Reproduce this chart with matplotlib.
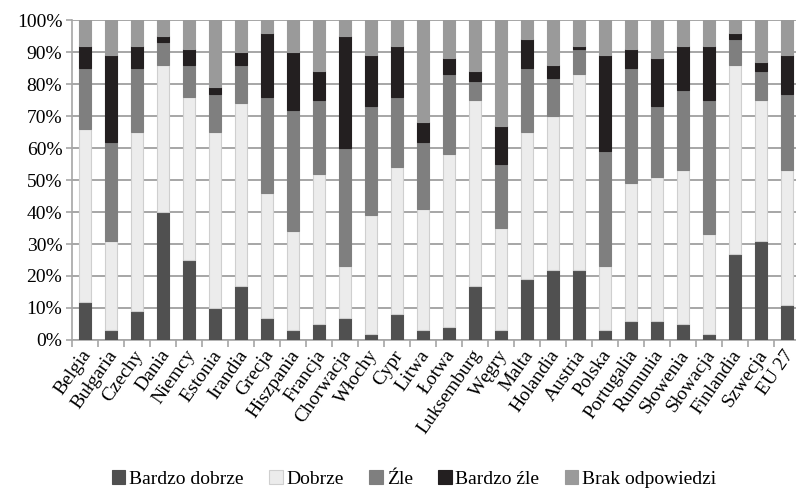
import matplotlib
matplotlib.use("Agg")
import matplotlib.pyplot as plt
import matplotlib.transforms as mtransforms
import numpy as np

countries = ["Belgia", "Bułgaria", "Czechy", "Dania", "Niemcy", "Estonia", "Irandia",
             "Grecja", "Hiszpania", "Francja", "Chorwacja", "Włochy", "Cypr", "Litwa",
             "Łotwa", "Luksemburg", "Węgry", "Malta", "Holandia", "Austria", "Polska",
             "Portugalia", "Rumunia", "Słowenia", "Słowacja", "Finlandia", "Szwecja", "EU 27"]

bardzo_dobrze = [12, 3, 9, 40, 25, 10, 17, 7, 3, 5, 7, 2, 8, 3, 4, 17, 3, 19, 22, 22, 3, 6, 6, 5, 2, 27, 31, 11]
dobrze = [54, 28, 56, 46, 51, 55, 57, 39, 31, 47, 16, 37, 46, 38, 54, 58, 32, 46, 48, 61, 20, 43, 45, 48, 31, 59, 44, 42]
zle = [19, 31, 20, 7, 10, 12, 12, 30, 38, 23, 37, 34, 22, 21, 25, 6, 20, 20, 12, 8, 36, 36, 22, 25, 42, 8, 9, 24]
bardzo_zle = [7, 27, 7, 2, 5, 2, 4, 20, 18, 9, 35, 16, 16, 6, 5, 3, 12, 9, 4, 1, 30, 6, 15, 14, 17, 2, 3, 12]
brak = [8, 11, 8, 5, 9, 21, 10, 4, 10, 16, 5, 11, 8, 32, 12, 16, 33, 6, 14, 8, 11, 9, 12, 8, 8, 4, 13, 11]

series_names = ["Bardzo dobrze", "Dobrze", "Źle", "Bardzo źle", "Brak odpowiedzi"]
series = [bardzo_dobrze, dobrze, zle, bardzo_zle, brak]
colors = ["#505050", "#ececec", "#7f7f7f", "#231f20", "#9a9a9a"]
edges = ["#505050", "#cfcfcf", "#7f7f7f", "#231f20", "#9a9a9a"]

plt.rcParams["font.family"] = ["Liberation Serif", "DejaVu Serif"]

fig = plt.figure(figsize=(7.96, 4.90), dpi=100)
ax = fig.add_axes([72 / 796, 150 / 490, 728 / 796, 320 / 490])

x = np.arange(len(countries))
bottom = np.zeros(len(countries))
handles = []
for name, vals, c, ec in zip(series_names, series, colors, edges):
    v = np.array(vals, dtype=float)
    b = ax.bar(x, v, width=0.46, bottom=bottom, color=c, edgecolor=ec,
               linewidth=0.8, label=name, zorder=3)
    handles.append(b)
    bottom += v

ax.set_xlim(-0.5, len(countries) - 0.5)
ax.set_ylim(0, 100)
ax.set_yticks(np.arange(0, 101, 10))
ax.set_yticklabels([f"{v}%" for v in range(0, 101, 10)], fontsize=14)
ax.yaxis.grid(True, color="#a6a6a6", linewidth=1.4, zorder=0)
ax.set_axisbelow(True)

ax.set_xticks(x)
ax.set_xticklabels(countries, rotation=55, ha="right", rotation_mode="anchor", fontsize=14)
ax.set_xticks(np.arange(-0.5, len(countries), 1), minor=True)
ax.tick_params(axis="x", which="major", length=0, pad=5)
ax.tick_params(axis="x", which="minor", length=5, color="#a6a6a6", width=1.2)
ax.tick_params(axis="y", length=4, color="#a6a6a6", width=1.2, pad=3)

shift = mtransforms.ScaledTranslation(-4 / 100, 0, fig.dpi_scale_trans)
for lbl in ax.get_xticklabels():
    lbl.set_transform(lbl.get_transform() + shift)

for side in ["top", "right"]:
    ax.spines[side].set_visible(False)
ax.spines["left"].set_color("#a6a6a6")
ax.spines["left"].set_linewidth(1.2)
ax.spines["bottom"].set_color("#a6a6a6")
ax.spines["bottom"].set_linewidth(1.2)

fig.legend(handles=handles, labels=series_names, loc="center", bbox_to_anchor=(414 / 796, 11 / 490),
           ncol=5, frameon=False, fontsize=14, handlelength=0.7, handleheight=0.7,
           handletextpad=0.2, columnspacing=1.3)

fig.savefig("out.png", dpi=100)
